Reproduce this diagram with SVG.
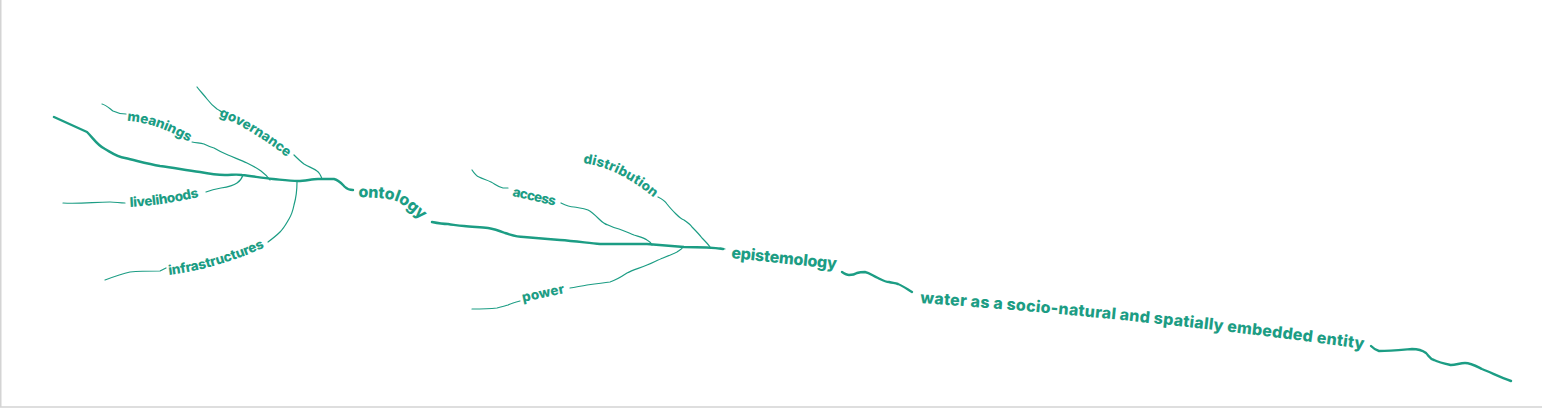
<svg xmlns="http://www.w3.org/2000/svg" width="1542" height="409" viewBox="0 0 1542 409">
<style>
.frame{stroke:#d4d4d4;stroke-width:1.5;fill:none}
.main{fill:none;stroke:#1c9d84;stroke-width:2.4;stroke-linecap:round;stroke-linejoin:round}
.branch{fill:none;stroke:#1c9d84;stroke-width:1.2;stroke-linecap:round;stroke-linejoin:round}
.lbl{font-family:Inter,"Open Sans","DejaVu Sans",sans-serif;font-weight:800;fill:#1c9d84}
.s{font-size:13.5px}
.b{font-size:16px}
</style>
<defs>
<path id="p-ontology" d="M358,197 C378,198 392,198 400,203 C408,208 416,215 428,227"/>
<path id="p-meanings" d="M127,121 Q160,123 195,146"/>
<path id="p-governance" d="M219,116 Q252,129 292,161"/>
<path id="p-livelihoods" d="M130,207 Q166,205 203,196"/>
<path id="p-infrastructures" d="M169,275 Q218,269 270,245"/>
<path id="p-access" d="M512,196 L560,207"/>
<path id="p-distribution" d="M583,163 Q620,168 659,202"/>
<path id="p-power" d="M523,302 L570,292"/>
<path id="p-epistemology" d="M731,258 L845,270"/>
<path id="p-water" d="M920,303 Q1150,319 1370,350"/>
</defs>
<rect width="1542" height="409" fill="#ffffff"/>
<path class="frame" d="M0.75,0 V407 H1542"/>
<g id="connectors">
<path class="main" d="M54,117 L87,132 C94,139 97,145 105,149 C112,153 117,157 125,158 C138,161 148,164 160,166 C175,168 185,170 200,172 C210,174 215,175 225,175 C232,175 236,174 242,175 C252,176 262,178 273,179 C283,180 290,181 298,181 C305,181 312,179 318,179 C325,179 330,179 334,179 C339,180 342,184 345,187 C347,189 350,190 353,190"/>
<path class="main" d="M432,222 C437,223 442,224 448,224 C455,225 458,226 464,226 C472,227 480,227 488,228 C495,229 500,231 505,233 C512,235 516,237 524,237 C535,238 548,239 560,240 C575,241 588,243 600,244 C615,244 630,244 647,244 C660,245 672,246 684,247 C697,247 710,247 723,249"/>
<path class="main" d="M842,272 C845,274 847,275 849,275 C852,275 854,275 857,273 C860,272 862,272 865,272 C870,273 873,276 878,278 C882,280 885,282 889,282 C893,283 895,283 898,284 C903,286 907,289 912,292"/>
<path class="main" d="M1371,346 C1373,348 1375,350 1379,351 C1390,351 1400,350 1412,349 C1418,349 1422,350 1426,353 C1429,356 1430,359 1434,360 C1440,363 1446,364 1451,365 C1456,365 1460,363 1465,363 C1471,363 1476,366 1482,369 C1492,373 1500,377 1511,381"/>
<path class="branch" d="M102,104 C106,105 109,108 113,111 C117,113 121,114 126,114"/>
<path class="branch" d="M192,142 C197,143 200,143 204,144 C208,146 210,147 214,148 C219,151 223,153 228,155 C235,158 241,160 247,163 C253,166 257,168 261,171 C265,174 268,177 270,180"/>
<path class="branch" d="M197,87 C200,91 204,95 207,99 C210,103 213,106 217,109 C219,110 220,111 222,112"/>
<path class="branch" d="M294,155 C297,158 300,161 304,164 C309,167 313,168 317,171 C320,173 321,176 322,179"/>
<path class="branch" d="M63,203 C80,204 95,202 110,202 C115,202 120,203 125,203"/>
<path class="branch" d="M206,192 C211,190 215,189 221,188 C228,187 233,186 237,183 C240,181 242,178 243,175"/>
<path class="branch" d="M105,280 C113,277 121,274 130,272 C140,271 150,271 160,271 C162,270 164,269 166,268"/>
<path class="branch" d="M268,242 C272,239 276,236 280,232 C284,228 286,224 289,219 C292,214 293,210 294,205 C296,198 297,190 297,182"/>
<path class="branch" d="M472,170 C474,173 476,176 479,177 C483,179 487,180 491,182 C495,184 498,187 503,188 C505,188 507,188 508,188"/>
<path class="branch" d="M561,203 C565,205 569,207 574,207 C579,208 583,208 588,210 C592,212 595,215 599,219 C602,222 604,224 608,225 C612,227 615,228 619,229 C625,231 629,233 634,235 C640,237 644,238 647,240 C649,241 651,243 652,245"/>
<path class="branch" d="M658,197 C662,199 665,201 667,204 C670,208 673,211 676,214 C679,217 681,219 684,220 C687,222 690,224 692,227 C696,231 699,234 702,238 C705,241 708,244 710,247"/>
<path class="branch" d="M472,309 C480,309 488,309 497,308 C501,307 505,306 508,305 C512,303 516,302 520,301"/>
<path class="branch" d="M570,288 C576,287 581,286 587,285 C595,284 603,283 610,282 C616,280 621,277 627,273 C633,270 640,268 647,265 C652,263 658,260 663,258 C668,256 673,254 677,252 C680,250 682,249 683,247"/>
<path class="branch" d="M720,248 L725,249"/>
</g>
<g id="node-ontology"><text class="lbl b"><textPath href="#p-ontology" textLength="70" lengthAdjust="spacing">ontology</textPath></text></g>
<g id="node-meanings"><text class="lbl s"><textPath href="#p-meanings" textLength="66" lengthAdjust="spacing">meanings</textPath></text></g>
<g id="node-governance"><text class="lbl s"><textPath href="#p-governance" textLength="80" lengthAdjust="spacing">governance</textPath></text></g>
<g id="node-livelihoods"><text class="lbl s"><textPath href="#p-livelihoods" textLength="70" lengthAdjust="spacing">livelihoods</textPath></text></g>
<g id="node-infrastructures"><text class="lbl s"><textPath href="#p-infrastructures" textLength="100" lengthAdjust="spacing">infrastructures</textPath></text></g>
<g id="node-epistemology"><text class="lbl b"><textPath href="#p-epistemology" textLength="106" lengthAdjust="spacing">epistemology</textPath></text></g>
<g id="node-access"><text class="lbl s"><textPath href="#p-access" textLength="44" lengthAdjust="spacing">access</textPath></text></g>
<g id="node-distribution"><text class="lbl s"><textPath href="#p-distribution" textLength="80" lengthAdjust="spacing">distribution</textPath></text></g>
<g id="node-power"><text class="lbl s"><textPath href="#p-power" textLength="43" lengthAdjust="spacing">power</textPath></text></g>
<g id="node-water"><text class="lbl b"><textPath href="#p-water" textLength="446" lengthAdjust="spacing">water as a socio-natural and spatially embedded entity</textPath></text></g>
</svg>
